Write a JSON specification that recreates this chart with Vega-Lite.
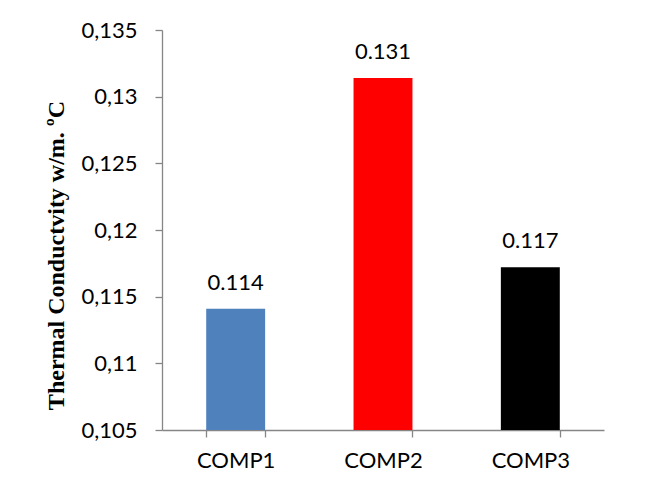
{
  "$schema": "https://vega.github.io/schema/vega-lite/v6.json",
  "width": 442,
  "height": 400,
  "autosize": {"type": "none"},
  "padding": {"left": 162, "top": 30, "right": 42, "bottom": 71},
  "background": "white",
  "config": {
    "view": {"stroke": null},
    "axis": {"grid": false, "domainColor": "#868686", "tickColor": "#868686", "domainWidth": 1.3, "tickWidth": 1.3, "labelColor": "#000000", "labelFont": "Lato", "labelFontSize": 22}
  },
  "data": {
    "values": [
      {"sample": "COMP1", "k": 0.1141},
      {"sample": "COMP2", "k": 0.1314},
      {"sample": "COMP3", "k": 0.1172}
    ]
  },
  "encoding": {
    "x": {
      "field": "sample", "type": "nominal", "sort": null,
      "scale": {"paddingInner": 0.6, "paddingOuter": 0.3},
      "axis": {"title": null, "labelAngle": 0, "tickBand": "extent", "tickSize": 7, "labelPadding": 13}
    }
  },
  "layer": [
    {
      "mark": {"type": "bar"},
      "encoding": {
        "y": {
          "field": "k", "type": "quantitative",
          "scale": {"domain": [0.105, 0.135], "zero": false, "nice": false},
          "axis": {
            "values": [0.105, 0.11, 0.115, 0.12, 0.125, 0.13, 0.135],
            "labelExpr": "replace(format(datum.value, '.3~f'), '.', ',')",
            "tickSize": 7, "labelPadding": 18,
            "title": "Thermal Conductvity w/m. ºC",
            "titleFont": "Liberation Serif", "titleFontSize": 24, "titleFontWeight": "bold",
            "titleColor": "#000000", "titlePadding": 12, "titleY": 225
          }
        },
        "y2": {"datum": 0.105},
        "color": {
          "field": "sample", "type": "nominal",
          "scale": {"domain": ["COMP1", "COMP2", "COMP3"], "range": ["#4F81BD", "#FF0000", "#000000"]},
          "legend": null
        }
      }
    },
    {
      "mark": {"type": "text", "baseline": "alphabetic", "dy": -19, "font": "Lato", "fontSize": 22, "color": "#000000"},
      "encoding": {
        "y": {"field": "k", "type": "quantitative"},
        "text": {"field": "k", "type": "quantitative", "format": ".3f"}
      }
    }
  ]
}
